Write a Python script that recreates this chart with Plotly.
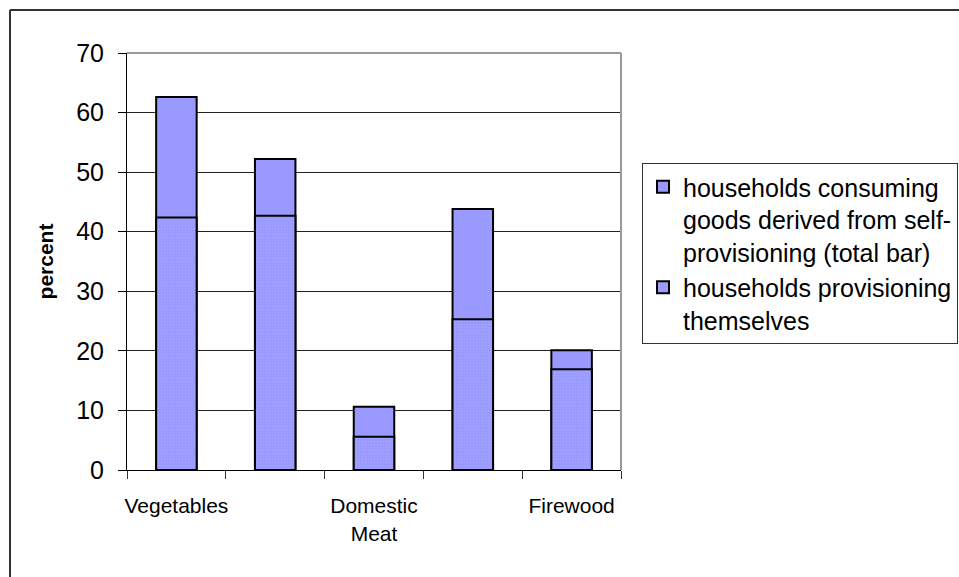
import plotly.graph_objects as go

# ---- data ----
positions = [0, 1, 2, 3, 4]
tick_labels = ["Vegetables", "", "Domestic<br>Meat", "", "Firewood"]
total_bar = [62.6, 52.2, 10.6, 43.8, 20.1]
self_prov = [42.4, 42.7, 5.6, 25.3, 16.9]
series_names = [
    "households consuming<br>goods derived from self-<br>provisioning (total bar)",
    "households provisioning<br>themselves",
]
y_ticks = [0, 10, 20, 30, 40, 50, 60, 70]

W, H = 959, 577
ML, MR, MT, MB = 127, 338, 53, 107
PW, PH = W - ML - MR, H - MT - MB

def px_x(px):
    return (px - ML) / PW

def px_y(py):
    return (H - MB - py) / PH

fig = go.Figure()
fig.add_trace(go.Bar(
    x=positions, y=total_bar, name=series_names[0], width=0.41,
    marker=dict(color="#9999FF", line=dict(color="black", width=2)),
    legendgroup="a",
))
fig.add_trace(go.Bar(
    x=positions, y=self_prov, name=series_names[1], width=0.41,
    marker=dict(color="#9999FF", line=dict(color="black", width=2),
                pattern=dict(shape=".", bgcolor="#9999FF", fgcolor="#B4B4FF",
                             size=3, solidity=0.25)),
    legendgroup="b",
))

shapes = [
    # plot area top/right border (grey)
    dict(type="line", xref="paper", yref="paper", x0=0, x1=1, y0=1, y1=1,
         line=dict(color="#999999", width=2)),
    dict(type="line", xref="paper", yref="paper", x0=1, x1=1, y0=0, y1=1,
         line=dict(color="#999999", width=2)),
    # outer chart frame (left and top visible)
    dict(type="line", xref="paper", yref="paper", x0=px_x(10), x1=px_x(10),
         y0=px_y(10), y1=px_y(600), line=dict(color="#333333", width=2)),
    dict(type="line", xref="paper", yref="paper", x0=px_x(10), x1=px_x(1000),
         y0=px_y(10), y1=px_y(10), line=dict(color="#333333", width=2)),
]

fig.update_layout(
    width=W, height=H,
    margin=dict(l=ML, r=MR, t=MT, b=MB, pad=0, autoexpand=False),
    paper_bgcolor="white", plot_bgcolor="white",
    barmode="overlay",
    font=dict(family="Liberation Sans, Arial, sans-serif", color="black"),
    shapes=shapes,
    showlegend=True,
    legend=dict(
        x=px_x(642), y=px_y(163), xanchor="left", yanchor="top",
        bordercolor="#333333", borderwidth=1, bgcolor="white",
        font=dict(size=25, family="Liberation Sans, Arial, sans-serif"),
        valign="top", tracegroupgap=8, traceorder="normal",
        itemwidth=30,
    ),
    xaxis=dict(
        range=[-0.5, 4.5], tickmode="array", tickvals=positions,
        ticktext=tick_labels, ticks="", showgrid=False, zeroline=False,
        showline=True, linecolor="black", linewidth=1,
        tickfont=dict(family="Liberation Sans, Arial, sans-serif", size=21),
        ticklabelstandoff=17,
        minor=dict(tickmode="array", tickvals=[-0.5, 0.5, 1.5, 2.5, 3.5, 4.5],
                   ticks="outside", ticklen=8, tickcolor="#333333", tickwidth=1,
                   showgrid=False),
        fixedrange=True,
    ),
    yaxis=dict(
        range=[0, 70], tickmode="array", tickvals=y_ticks,
        showgrid=True, gridcolor="#222222", gridwidth=1,
        zeroline=False, showline=True, linecolor="black", linewidth=1,
        ticks="outside", ticklen=8, tickcolor="black",
        tickfont=dict(size=25),
        ticklabelstandoff=9,
        title=dict(text="<b>percent</b>", font=dict(size=21), standoff=16),
        fixedrange=True,
    ),
)

fig.write_html("out.html")
